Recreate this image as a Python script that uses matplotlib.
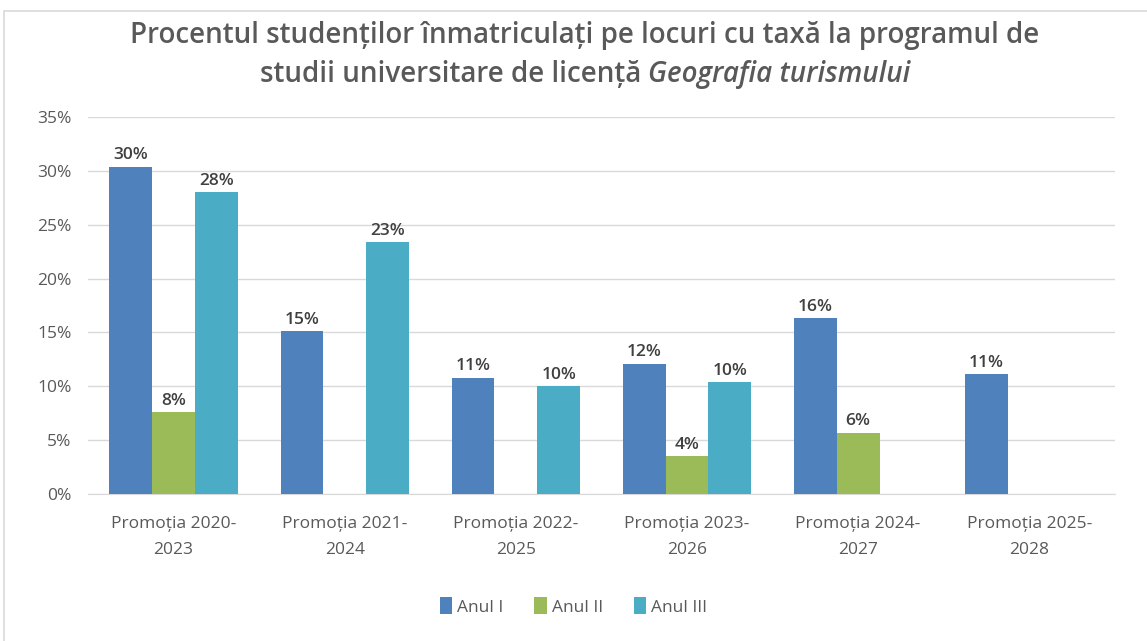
import numpy as np
import matplotlib
matplotlib.use('Agg')
import matplotlib.pyplot as plt
from matplotlib.patches import Rectangle

categories = ['Promoția 2020-\n2023', 'Promoția 2021-\n2024', 'Promoția 2022-\n2025',
              'Promoția 2023-\n2026', 'Promoția 2024-\n2027', 'Promoția 2025-\n2028']
anul_1 = [30.4, 15.1, 10.8, 12.1, 16.3, 11.1]
anul_2 = [7.6, None, None, 3.5, 5.7, None]
anul_3 = [28.0, 23.4, 10.0, 10.4, None, None]
series_names = ['Anul I', 'Anul II', 'Anul III']
colors = ['#4F81BD', '#9BBB59', '#4BACC6']
yticks = [0, 5, 10, 15, 20, 25, 30, 35]

plt.rcParams['font.family'] = ['Open Sans', 'DejaVu Sans']

fig = plt.figure(figsize=(11.47, 6.41), dpi=100)
ax = fig.add_axes([0.0767, 0.2293, 0.8953, 0.5882])

# light frame around the chart
fig.patches.append(Rectangle((4 / 1147, -0.1), 1.2, 1 - 11 / 641 + 0.1,
                             transform=fig.transFigure, fill=False,
                             edgecolor='#D9D9D9', linewidth=1.2))

x = np.arange(len(categories))
w = 0.25
for i, (vals, name, c) in enumerate(zip([anul_1, anul_2, anul_3], series_names, colors)):
    pos = x + (i - 1) * w
    h = [v if v is not None else 0 for v in vals]
    ax.bar(pos, h, width=w, color=c, label=name, zorder=3)
    for p, v in zip(pos, vals):
        if v is None:
            continue
        ax.text(p, v + 0.3, '%d%%' % round(v), ha='center', va='bottom',
                fontsize=12.5, fontweight='semibold', color='#404040', zorder=4)

ax.set_xlim(-0.5, len(categories) - 0.5)
ax.set_ylim(0, 35)
ax.set_yticks(yticks)
ax.set_yticklabels(['%d%%' % t for t in yticks])
ax.set_xticks(x)
ax.set_xticklabels(categories, linespacing=1.8)
ax.tick_params(axis='both', length=0, labelsize=12.5, labelcolor='#595959')
ax.tick_params(axis='y', pad=12)
ax.tick_params(axis='x', pad=16)
ax.yaxis.grid(True, color='#D9D9D9', linewidth=1, zorder=0)
for s in ['top', 'right', 'left']:
    ax.spines[s].set_visible(False)
ax.spines['bottom'].set_color('#D9D9D9')

title_size = 20
fig.text(0.51, 0.944, 'Procentul studenților înmatriculați pe locuri cu taxă la programul de',
         ha='center', va='center', fontsize=title_size, fontweight='semibold', color='#595959')
t1 = fig.text(0.51, 0.884, 'studii universitare de licență ', ha='right', va='center',
              fontsize=title_size, fontweight='semibold', color='#595959')
t2 = fig.text(0, 0.884, 'Geografia turismului', ha='left', va='center',
              fontsize=title_size, fontweight='semibold', style='italic', color='#595959')
fig.canvas.draw()
bb = t1.get_window_extent()
bb2 = t2.get_window_extent()
total = bb.width + bb2.width
cx = 0.51 * 1147
t1.set_x((cx - total / 2 + bb.width) / 1147)
t2.set_x((cx - total / 2 + bb.width) / 1147)

ax.legend(loc='center', bbox_to_anchor=(0.5, 0.054),
          bbox_transform=fig.transFigure, ncol=3, frameon=False,
          fontsize=12.5, labelcolor='#595959', handlelength=0.7, handleheight=1.1,
          handletextpad=0.3, columnspacing=1.8)

fig.savefig('out.png', dpi=100)
